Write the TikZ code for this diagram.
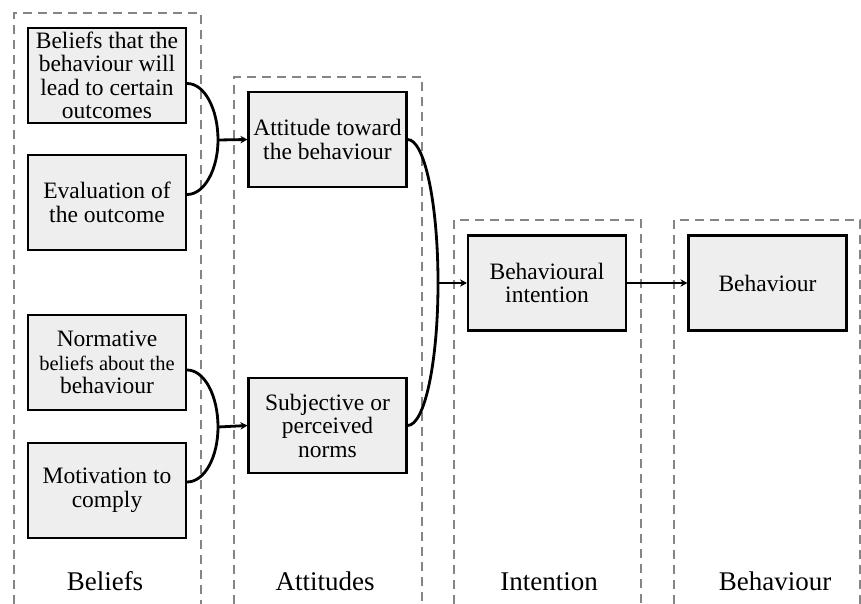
\documentclass[tikz,border=0pt]{standalone}
\usepackage{fontspec}
\setmainfont{Liberation Serif}
\usetikzlibrary{arrows.meta}
\definecolor{boxgray}{HTML}{EEEEEE}
\definecolor{framegray}{HTML}{858585}
\begin{document}
\begin{tikzpicture}[x=1pt,y=-1pt,
  box/.style={draw=black,line width=2.2pt,fill=boxgray,minimum width=158pt,minimum height=95pt,inner sep=0pt,align=center,font=\fontsize{23.5}{23.5}\selectfont},
  frame/.style={draw=framegray,line width=1.4pt,dash pattern=on 9pt off 6pt},
  conn/.style={line width=2.8pt,draw=black},
  arr/.style={conn,-{Stealth[length=7pt,width=7.5pt]}},
  lab/.style={font=\fontsize{27}{30}\selectfont,anchor=base}]
\useasboundingbox (0,0) rectangle (861,604);
% frames
\draw[frame] (14,604) -- (14,13) -- (201,13) -- (201,604);
\draw[frame] (234,604) -- (234,77) -- (422,77) -- (422,604);
\draw[frame] (454,604) -- (454,220) -- (641,220) -- (641,604);
\draw[frame] (674,604) -- (674,220) -- (860,220) -- (860,604);
% boxes
\node[box] (b1) at (107,75.5) {Beliefs that the\\behaviour will\\lead to certain\\outcomes};
\node[box] (b2) at (107,202.5) {Evaluation of\\the outcome};
\node[box] (b3) at (107,362.5) {Normative\\{\fontsize{20.5}{23.5}\selectfont beliefs about the}\\behaviour};
\node[box] (b4) at (107,490.5) {Motivation to\\comply};
\node[box] (att) at (327.5,139.5) {Attitude toward\\the behaviour};
\node[box] (subj) at (327.5,425.5) {Subjective or\\perceived\\norms};
\node[box] (int) at (547,283) {Behavioural\\intention};
\node[box] (beh) at (767.5,283) {Behaviour};
% junctions
\coordinate (j1) at (218,140);
\coordinate (j2) at (218,427);
\coordinate (j3) at (438,283);
% connectors
\draw[conn] ([yshift=-8pt]b1.east) .. controls +(17.5,0) and +(0,-31) .. (j1)
  .. controls +(0,29) and +(17.5,0) .. ([yshift=8pt]b2.east);
\draw[arr] (j1) -- (att.west);
\draw[conn] ([yshift=-7.5pt]b3.east) .. controls +(17.5,0) and +(0,-31) .. (j2)
  .. controls +(0,30) and +(17.5,0) .. ([yshift=8.5pt]b4.east);
\draw[arr] (j2) -- (subj.west);
\draw[conn] (att.east) .. controls +(17,0) and +(0,-79.5) .. (j3)
  .. controls +(0,79.5) and +(17,0) .. (subj.east);
\draw[arr] (j3) -- (int.west);
\draw[arr] (int.east) -- (beh.west);
% labels
\node[lab] (l1) at (105,590) {Beliefs};
\node[lab] (l2) at (325,590) {Attitudes};
\node[lab] (l3) at (549,590) {Intention};
\node[lab] (l4) at (775,590) {Behaviour};
\end{tikzpicture}
\end{document}
